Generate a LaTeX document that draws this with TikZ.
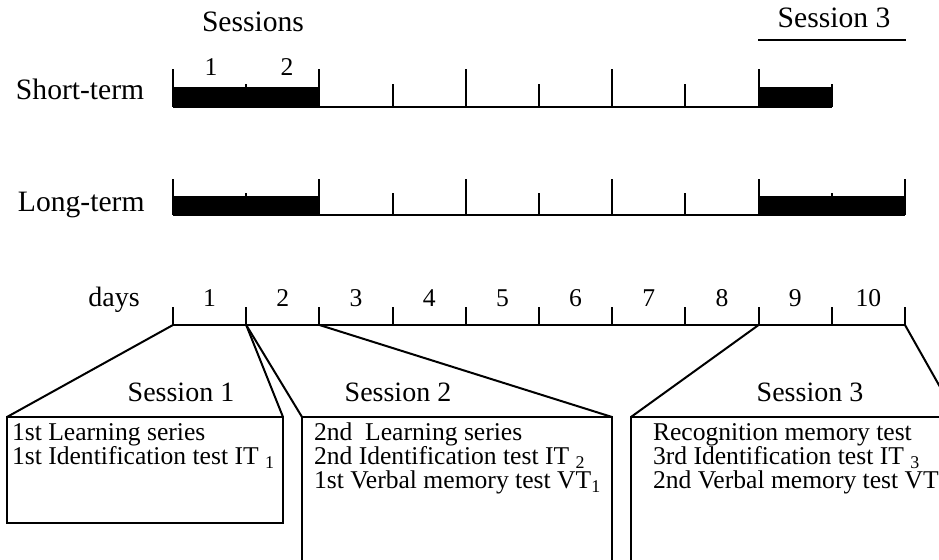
\documentclass[tikz,border=0pt]{standalone}
\usepackage{fontspec}
\setmainfont{Liberation Serif}
\usetikzlibrary{positioning}

\begin{document}
\begin{tikzpicture}[
      x=0.5pt, y=-0.5pt, line width=1pt,
      lbl/.style={font=\fontsize{14.8}{17}\selectfont, inner sep=0pt, anchor=base},
      sess/.style={font=\fontsize{14}{17}\selectfont, inner sep=0pt, anchor=base},
      num/.style={font=\fontsize{12.8}{15}\selectfont, inner sep=0pt, anchor=base},
      item/.style={font=\fontsize{12.8}{15}\selectfont, inner sep=0pt, anchor=base west},
      box/.style={draw, anchor=north west, inner sep=0pt, outer sep=0pt,
                  minimum height=91.5pt},
      bar/.style={fill=black}
    ]
    \useasboundingbox (0,0) rectangle (939,560);
    \clip (0,0) rectangle (939,560);

    % headings
    \node[lbl] (sessions) at (253,32) {Sessions};
    \node[num] (one) at (211,76) {1};
    \node[num] (two) at (287,76) {2};
    \node[lbl] (third) at (834,28) {Session 3};
    \draw (758,40) -- (906,40);

    % short-term row
    \node[lbl, anchor=base west] (short) at (15,100) {Short-term};
    \foreach \k in {0,...,9} {
      \pgfmathsetmacro\tp{ifthenelse(mod(\k,2)==1,84,69)}
      \draw ({173+73.2*\k},107) -- ({173+73.2*\k},\tp);
    }
    \fill[bar] (173,87) rectangle ({173+73.2*2},107);
    \fill[bar] ({173+73.2*8},87) rectangle ({173+73.2*9},107);
    \draw (173,107) -- ({173+73.2*9},107);

    % long-term row
    \node[lbl, anchor=base west] (long) at (17,212) {Long-term};
    \foreach \k in {0,...,10} {
      \pgfmathsetmacro\tp{ifthenelse(mod(\k,2)==1,193,179)}
      \draw ({173+73.2*\k},215) -- ({173+73.2*\k},\tp);
    }
    \fill[bar] (173,196) rectangle ({173+73.2*2},215);
    \fill[bar] ({173+73.2*8},196) rectangle ({173+73.2*10},215);
    \draw (173,215) -- ({173+73.2*10},215);

    % days
    \node[lbl, font=\fontsize{14}{17}\selectfont] (days) at (114,307) {days};
    \foreach \k in {0,...,10} {
      \coordinate (d\k) at ({173+73.2*\k},325);
      \draw (d\k) -- ++(0,-18);
    }
    \foreach \k in {1,...,10}
      \node[num] (n\k) at ({173+73.2*(\k-0.5)},307) {\k};
    \draw (d0) -- (d10);

    % sessions
    \node[box, minimum width=138pt, minimum height=53pt] (b1) at (7,417) {};
    \node[box, minimum width=155pt] (b2) at (302,417) {};
    \node[box, minimum width=163pt] (b3) at (631,417) {};
    \draw (d0) -- (b1.north west);
    \draw (d1) -- (b1.north east);
    \draw (d1) -- (b2.north west);
    \draw (d2) -- (b2.north east);
    \draw (d8) -- (b3.north west);
    \draw (d10) -- (b3.north east);

    \node[sess] (t1) at (181,402) {Session 1};
    \node[sess] (t2) at (398,402) {Session 2};
    \node[sess] (t3) at (810,402) {Session 3};

    \node[item] (a1) at (11,441) {1st Learning series};
    \node[item] (a2) at (11,465) {1st Identification test IT \textsubscript{1}};
    \node[item] (c1) at (313,441) {2nd~ Learning series};
    \node[item] (c2) at (313,465) {2nd Identification test IT \textsubscript{2}};
    \node[item] (c3) at (313,489) {1st Verbal memory test VT\textsubscript{1}};
    \node[item] (e1) at (652,441) {Recognition memory test};
    \node[item] (e2) at (652,465) {3rd Identification test IT \textsubscript{3}};
    \node[item] (e3) at (652,489) {2nd Verbal memory test VT\textsubscript{2}};
  \end{tikzpicture}
\end{document}
